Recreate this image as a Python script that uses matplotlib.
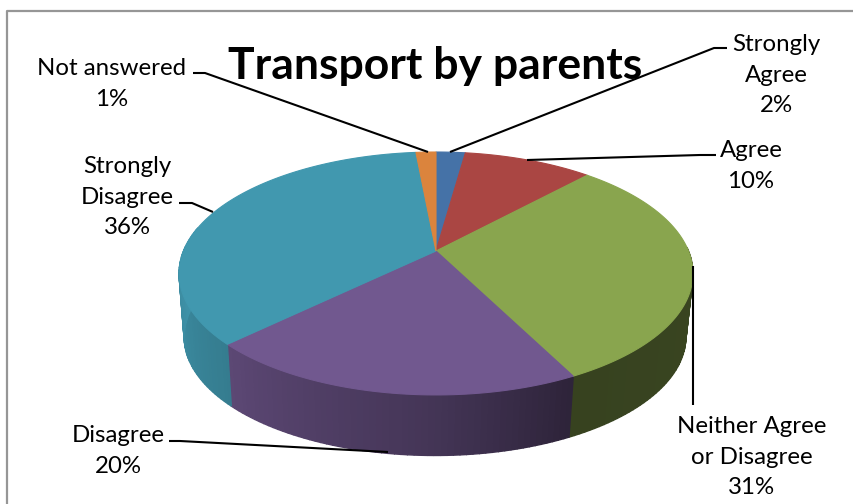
import numpy as np
import matplotlib
matplotlib.use("Agg")
import matplotlib.pyplot as plt

title = "Transport by parents"
categories = ["Strongly\nAgree", "Agree", "Neither Agree\nor Disagree", "Disagree", "Strongly\nDisagree", "Not answered"]
percent_labels = [2, 10, 31, 20, 36, 1]
# slice sizes, the printed labels are rounded
values = [2.2, 9.7, 30.6, 20.3, 35.7, 1.5]
colors = ["#4572a7", "#aa4643", "#89a54e", "#71588f", "#4198af", "#db843d"]

# label centre, then the leader line from the pie out to the label (pixels)
label_pos = [(776, 75), (751, 166), (752, 457), (118, 451), (127, 197), (112, 84)]
leaders = [
    [(450, 152), (714, 48), (727, 48)],
    [(527, 160), (700, 155), (716, 155)],
    [(693, 266), (693, 405)],
    [(388, 452), (180, 441), (169, 441)],
    [(213, 212), (192, 203), (179, 203)],
    [(428, 152), (205, 73), (193, 73)],
]

# side shading by angle
shade_angle = [100, 153, 180, 227, 275]
shade_value = [0.42, 0.40, 0.60, 0.82, 0.97]


def project(theta, cx, cy, a, b, k=0.185):
    # circle seen in perspective, theta clockwise from the back of the pie
    x = np.sin(theta)
    y = np.cos(theta)
    w = 1 + k * y
    return cx + a * x / w, cy - b * y / w


def top(theta):
    return project(theta, 436, 251, 252.5, 117.3)


def bottom(theta):
    return project(theta, 435, 315, 246.5, 114.5)


def dark(color, f):
    return tuple(c * f for c in matplotlib.colors.to_rgb(color))


fig = plt.figure(figsize=(8.54, 5.04), dpi=100)
ax = fig.add_axes([0, 0, 1, 1])
ax.set_xlim(0, 854)
ax.set_ylim(504, 0)
ax.axis("off")

# chart frame, only top and left are in the crop
ax.plot([7, 7, 854], [504, 11, 11], color="#969696", lw=1.6, zorder=1)

edges = np.cumsum([0] + values) / sum(values) * 2 * np.pi

# side wall, thin strips so that the gradient shows
for i in range(len(values)):
    t = np.linspace(edges[i], edges[i + 1], max(int(values[i] * 3), 4))
    for t0, t1 in zip(t[:-1], t[1:]):
        mid = np.degrees((t0 + t1) / 2)
        if mid < 88 or mid > 282:
            continue
        f = np.interp(mid, shade_angle, shade_value)
        xt, yt = top(np.array([t0, t1]))
        xb, yb = bottom(np.array([t1, t0]))
        ax.fill(np.r_[xt, xb], np.r_[yt, yb], color=dark(colors[i], f), lw=1.0, zorder=2)

# top of the pie
for i in range(len(values)):
    t = np.linspace(edges[i], edges[i + 1], 80)
    x, y = top(t)
    ax.fill(np.r_[436, x], np.r_[251, y], color=colors[i], lw=0.8, zorder=3)

for line in leaders:
    ax.plot([p[0] for p in line], [p[1] for p in line], color="black", lw=1.5, zorder=5,
            solid_capstyle="butt")

for name, pct, pos in zip(categories, percent_labels, label_pos):
    ax.text(pos[0], pos[1], f"{name}\n{pct}%", ha="center", va="center", family="Lato",
            fontsize=17.3, linespacing=1.58, color="black", zorder=6)

ax.text(435.5, 66, title, ha="center", va="center", family="Lato", weight="bold", fontsize=32,
        color="black", zorder=4)

fig.savefig("out.png", dpi=100)
